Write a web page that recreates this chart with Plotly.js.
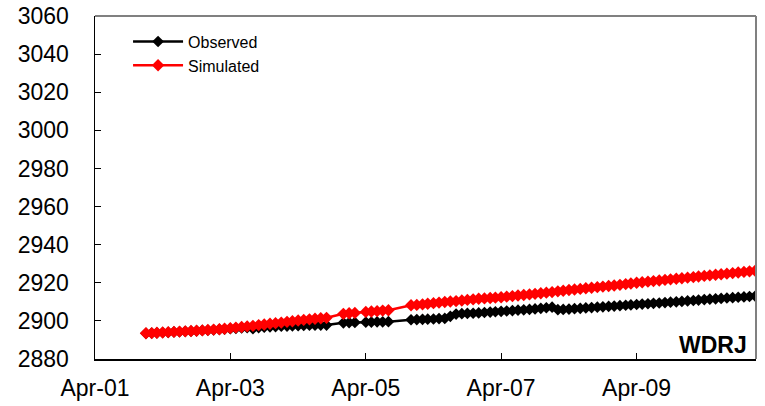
<!DOCTYPE html>
<html>
<head>
<meta charset="utf-8">
<script src="https://cdn.plot.ly/plotly-3.0.1.min.js"></script>
<style>
html,body{margin:0;padding:0;background:#fff;}
#chart{width:765px;height:406px;}
</style>
</head>
<body>
<div id="chart"></div>
<script>
var dates = [
"2002-01-01","2002-02-01","2002-03-01","2002-04-01","2002-05-01","2002-06-01","2002-07-01","2002-08-01","2002-09-01","2002-10-01","2002-11-01","2002-12-01",
"2003-01-01","2003-02-01","2003-03-01","2003-04-01","2003-05-01","2003-06-01","2003-07-01","2003-08-01","2003-09-01","2003-10-01","2003-11-01","2003-12-01",
"2004-01-01","2004-02-01","2004-03-01","2004-04-01","2004-05-01","2004-06-01","2004-07-01","2004-08-01","2004-09-01","2004-12-01",
"2005-01-01","2005-02-01","2005-04-01","2005-05-01","2005-06-01","2005-07-01","2005-08-01","2005-12-01",
"2006-01-01","2006-02-01","2006-03-01","2006-04-01","2006-05-01","2006-06-01","2006-07-01","2006-08-01","2006-09-01","2006-10-01","2006-11-01","2006-12-01",
"2007-01-01","2007-02-01","2007-03-01","2007-04-01","2007-05-01","2007-06-01","2007-07-01","2007-08-01","2007-09-01","2007-10-01","2007-11-01","2007-12-01",
"2008-01-01","2008-02-01","2008-03-01","2008-04-01","2008-05-01","2008-06-01","2008-07-01","2008-08-01","2008-09-01","2008-10-01","2008-11-01","2008-12-01",
"2009-01-01","2009-02-01","2009-03-01","2009-04-01","2009-05-01","2009-06-01","2009-07-01","2009-08-01","2009-09-01","2009-10-01","2009-11-01","2009-12-01",
"2010-01-01","2010-02-01","2010-03-01","2010-04-01","2010-05-01","2010-06-01","2010-07-01","2010-08-01","2010-09-01","2010-10-01","2010-11-01","2010-12-01",
"2011-01-01"
];

var observed = [
2893.5,2893.6,2893.7,2893.9,2894.0,2894.2,2894.3,2894.5,2894.6,2894.8,2895.0,2895.1,
2895.3,2895.5,2895.7,2895.9,2896.1,2896.3,2896.5,2895.9,2896.5,2896.7,2896.9,2897.0,
2897.2,2897.3,2897.4,2897.5,2897.6,2897.7,2897.7,2897.8,2897.8,2899.0,
2899.1,2899.2,2899.3,2899.4,2899.5,2899.5,2899.6,2900.6,
2900.7,2900.8,2900.9,2901.0,2901.2,2901.3,2902.4,2903.6,2903.8,2903.9,2904.0,2904.2,
2904.4,2904.6,2904.8,2905.0,2905.2,2905.4,2905.6,2905.8,2906.0,2906.3,2906.6,2906.9,
2907.2,2905.9,2906.0,2906.2,2906.4,2906.6,2906.8,2907.0,2907.2,2907.4,2907.6,2907.8,
2908.0,2908.2,2908.4,2908.6,2908.8,2909.0,2909.2,2909.4,2909.6,2909.8,2910.0,2910.2,
2910.5,2910.7,2910.9,2911.2,2911.4,2911.6,2911.8,2912.0,2912.2,2912.4,2912.6,2912.8,
2913.0
];

var simulated = [
2893.5,2893.6,2893.8,2893.9,2894.1,2894.2,2894.4,2894.5,2894.7,2894.8,2895.0,2895.2,
2895.4,2895.6,2895.9,2896.2,2896.5,2896.8,2897.1,2897.4,2897.8,2898.1,2898.5,2898.8,
2899.1,2899.5,2899.8,2900.2,2900.5,2900.8,2901.1,2901.4,2901.6,2903.7,
2904.0,2904.2,2904.7,2904.9,2905.1,2905.4,2905.6,2908.2,
2908.4,2908.7,2909.0,2909.3,2909.6,2909.9,2910.2,2910.4,2910.7,2911.0,2911.3,2911.6,
2911.8,2912.0,2912.2,2912.4,2912.7,2913.0,2913.3,2913.6,2913.9,2914.2,2914.5,2914.8,
2915.1,2915.5,2915.8,2916.2,2916.5,2916.8,2917.1,2917.4,2917.7,2918.0,2918.3,2918.6,
2918.9,2919.3,2919.6,2920.0,2920.3,2920.6,2920.9,2921.2,2921.5,2921.8,2922.1,2922.4,
2922.7,2923.0,2923.3,2923.6,2923.9,2924.2,2924.5,2924.8,2925.1,2925.4,2925.7,2926.0,
2926.3
];

var xTickVals = ["2001-04-01","2003-04-01","2005-04-01","2007-04-01","2009-04-01"];
var xTickText = ["Apr-01","Apr-03","Apr-05","Apr-07","Apr-09"];
var yTickVals = [2880,2900,2920,2940,2960,2980,3000,3020,3040,3060];
var seriesNames = ["Observed","Simulated"];
var stationLabel = "WDRJ";

var traces = [
  {x: dates, y: observed, name: seriesNames[0], type: "scatter", mode: "lines+markers",
   line: {color: "#000000", width: 2.5}, marker: {symbol: "diamond", size: 9, color: "#000000"}, cliponaxis: true},
  {x: dates, y: simulated, name: seriesNames[1], type: "scatter", mode: "lines+markers",
   line: {color: "#ff0000", width: 2.5}, marker: {symbol: "diamond", size: 9.5, color: "#ff0000"}, cliponaxis: true}
];

var layout = {
  width: 765, height: 406,
  margin: {l: 95, r: 9, t: 16, b: 47, pad: 0},
  paper_bgcolor: "#ffffff", plot_bgcolor: "#ffffff",
  font: {family: "Liberation Sans, Arial, sans-serif", color: "#000000"},
  showlegend: true,
  legend: {x: 0.05, y: 0.975, xanchor: "left", yanchor: "top", bgcolor: "rgba(0,0,0,0)",
           font: {size: 16, color: "#000"}, tracegroupgap: 0, itemwidth: 50},
  xaxis: {type: "date", range: ["2001-04-01", "2011-01-05"], tickvals: xTickVals, ticktext: xTickText,
          ticks: "inside", ticklen: 6, tickwidth: 1, tickcolor: "#000",
          showgrid: false, zeroline: false, showline: true, linecolor: "#000", linewidth: 1.5,
          tickfont: {size: 23}, ticklabelstandoff: 8},
  yaxis: {range: [2880, 3060], tickvals: yTickVals, ticks: "inside", ticklen: 6, tickwidth: 1, tickcolor: "#000",
          showgrid: false, zeroline: false, showline: true, linecolor: "#000", linewidth: 1.5,
          tickfont: {size: 23}, ticklabelstandoff: 20},
  shapes: [
    {type: "line", xref: "paper", yref: "paper", x0: 0, x1: 1, y0: 1, y1: 1, line: {color: "#808080", width: 2}},
    {type: "line", xref: "paper", yref: "paper", x0: 1, x1: 1, y0: 0, y1: 1, line: {color: "#808080", width: 2}}
  ],
  annotations: [
    {text: "<b>" + stationLabel + "</b>", xref: "paper", yref: "paper", x: 0.99, y: 0.04,
     xanchor: "right", yanchor: "middle", showarrow: false, font: {size: 23, color: "#000"}}
  ]
};

Plotly.newPlot("chart", traces, layout, {displayModeBar: false, staticPlot: true});
</script>
</body>
</html>
